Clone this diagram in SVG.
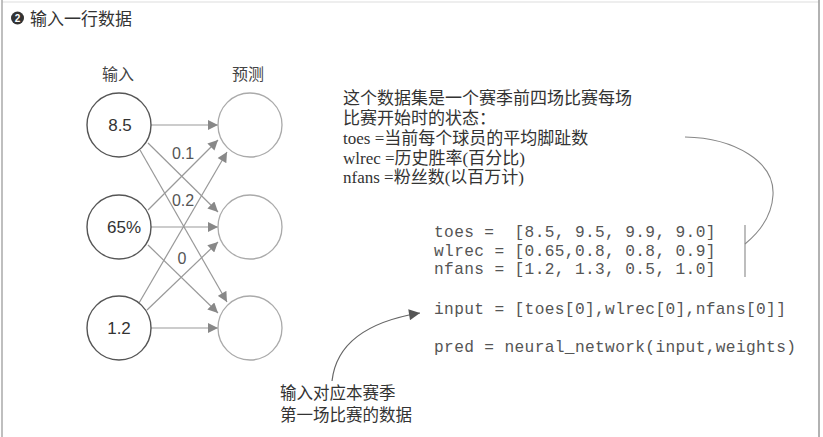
<svg xmlns="http://www.w3.org/2000/svg" width="823" height="437" viewBox="0 0 823 437">
<defs>
<style>
.cjk{font-family:"Liberation Serif","Noto Sans CJK SC",serif;fill:#333;}
.hdr{font-family:"Noto Sans CJK SC",sans-serif;font-size:16px;fill:#444;text-anchor:middle;}
.num{font-family:"Liberation Sans",Arial,sans-serif;font-size:17px;fill:#333;text-anchor:middle;}
.w{font-family:"Liberation Sans",Arial,sans-serif;font-size:16px;fill:#555;}
.code{font-family:"Liberation Mono","Courier New",monospace;font-size:16.2px;letter-spacing:0.35px;fill:#555;white-space:pre;}
.in{fill:#fff;stroke:#555;stroke-width:1.4;}
.out{fill:#fff;stroke:#aaa;stroke-width:1.3;}
.edge{stroke:#999;stroke-width:1.2;fill:none;}
.thin{stroke:#888;stroke-width:1.1;fill:none;}
</style>
<marker id="ah" viewBox="0 0 10 10" refX="10" refY="5" markerWidth="11" markerHeight="10" markerUnits="userSpaceOnUse" orient="auto">
<path d="M0,0 L10,5 L0,10 z" fill="#888"/>
</marker>
<marker id="ahb" viewBox="0 0 10 10" refX="10" refY="5" markerWidth="14" markerHeight="11" markerUnits="userSpaceOnUse" orient="auto">
<path d="M0,0 L10,5 L0,10 z" fill="#555"/>
</marker>
</defs>
<rect width="823" height="437" fill="#fff"/>
<g id="frame">
<line x1="2" y1="2" x2="819" y2="2" stroke="#ddd" stroke-width="1"/>
<line x1="2" y1="0" x2="2" y2="437" stroke="#aaa" stroke-width="1.5"/>
<line x1="819" y1="0" x2="819" y2="437" stroke="#999" stroke-width="1.5"/>
</g>
<g id="title">
<circle cx="17.5" cy="18" r="6.5" fill="#333"/>
<text x="17.5" y="21.7" font-family="Liberation Sans,Arial,sans-serif" font-size="10" font-weight="bold" fill="#fff" text-anchor="middle">2</text>
<text x="30" y="25" class="cjk" font-size="17">输入一行数据</text>
</g>
<g id="headers">
<text x="118" y="80" class="hdr">输入</text>
<text x="248" y="80" class="hdr">预测</text>
</g>
<g id="connectors">
<line class="edge" x1="151" y1="125" x2="218" y2="125" marker-end="url(#ah)"/>
<line class="edge" x1="151" y1="227" x2="218" y2="227" marker-end="url(#ah)"/>
<line class="edge" x1="151" y1="328" x2="218" y2="328" marker-end="url(#ah)"/>
<line class="edge" x1="148" y1="143" x2="218" y2="212" marker-end="url(#ah)"/>
<line class="edge" x1="140" y1="150" x2="227" y2="302" marker-end="url(#ah)"/>
<line class="edge" x1="148" y1="210" x2="218" y2="140" marker-end="url(#ah)"/>
<line class="edge" x1="148" y1="245" x2="218" y2="313" marker-end="url(#ah)"/>
<line class="edge" x1="139" y1="303" x2="227" y2="152" marker-end="url(#ah)"/>
<line class="edge" x1="147" y1="310" x2="218" y2="242" marker-end="url(#ah)"/>
<path class="thin" d="M685,137 C735,138 775,162 773,195 C772,215 762,230 745,244"/>
<line class="thin" x1="745" y1="225" x2="745" y2="277"/>
<path d="M332,381 C336,345 365,322 420,313" stroke="#666" stroke-width="1.2" fill="none" marker-end="url(#ahb)"/>
</g>
<g id="weights">
<text x="183" y="159" class="w" text-anchor="middle">0.1</text>
<text x="183" y="206" class="w" text-anchor="middle">0.2</text>
<text x="182" y="264" class="w" text-anchor="middle">0</text>
</g>
<g id="in1"><circle class="in" cx="119" cy="125" r="32"/><text x="120" y="131" class="num">8.5</text></g>
<g id="in2"><circle class="in" cx="119" cy="227" r="32"/><text x="124" y="233" class="num">65%</text></g>
<g id="in3"><circle class="in" cx="119" cy="328" r="32"/><text x="119" y="334" class="num">1.2</text></g>
<g id="out1"><circle class="out" cx="250" cy="125" r="32"/></g>
<g id="out2"><circle class="out" cx="250" cy="227" r="32"/></g>
<g id="out3"><circle class="out" cx="250" cy="328" r="32"/></g>
<g id="description" class="cjk" font-size="17">
<text x="343" y="104">这个数据集是一个赛季前四场比赛每场</text>
<text x="343" y="124">比赛开始时的状态：</text>
<text x="343" y="144">toes =当前每个球员的平均脚趾数</text>
<text x="343" y="164">wlrec =历史胜率(百分比)</text>
<text x="343" y="183">nfans =粉丝数(以百万计)</text>
</g>
<g id="code">
<text x="434" y="237" class="code">toes =  [8.5, 9.5, 9.9, 9.0]</text>
<text x="434" y="255.5" class="code">wlrec = [0.65,0.8, 0.8, 0.9]</text>
<text x="434" y="274" class="code">nfans = [1.2, 1.3, 0.5, 1.0]</text>
<text x="434" y="314" class="code">input = [toes[0],wlrec[0],nfans[0]]</text>
<text x="434" y="352" class="code">pred = neural_network(input,weights)</text>
</g>
<g id="note" class="cjk" font-size="16.5">
<text x="280" y="399">输入对应本赛季</text>
<text x="280" y="421">第一场比赛的数据</text>
</g>
</svg>
